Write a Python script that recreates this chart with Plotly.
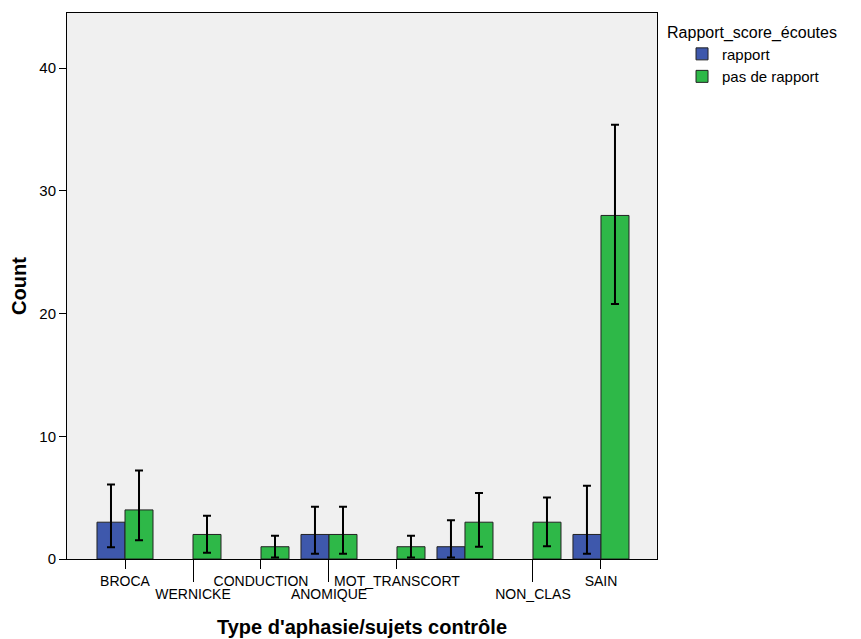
import plotly.graph_objects as go

# ---- data ----
categories = ["BROCA", "WERNICKE", "CONDUCTION", "ANOMIQUE", "MOT_TRANSCORT", "", "NON_CLAS", "SAIN"]
rapport = [3, None, None, 2, None, 1, None, 2]
rapport_low = [0.95, None, None, 0.43, None, 0.13, None, 0.43]
rapport_high = [6.08, None, None, 4.26, None, 3.15, None, 5.97]
pas_rapport = [4, 2, 1, 2, 1, 3, 3, 28]
pas_low = [1.52, 0.51, 0.13, 0.43, 0.13, 1.0, 1.03, 20.78]
pas_high = [7.22, 3.53, 1.9, 4.26, 1.9, 5.38, 5.02, 35.4]
y_ticks = [0, 10, 20, 30, 40]

FONT = "Liberation Sans, Arial, sans-serif"
BLUE = "#3E58AC"
GREEN = "#2EB848"

x_idx = list(range(len(categories)))


def err(vals, lo, hi):
    plus = [None if v is None else h - v for v, h in zip(vals, hi)]
    minus = [None if v is None else v - l for v, l in zip(vals, lo)]
    return plus, minus


# staggered label rows (alternate among labelled categories)
row1, row2 = [], []
k = 0
for i, c in enumerate(categories):
    if not c:
        continue
    (row1 if k % 2 == 0 else row2).append(i)
    k += 1

fig = go.Figure()
for name, vals, lo, hi, col in [
    ("rapport", rapport, rapport_low, rapport_high, BLUE),
    ("pas de rapport", pas_rapport, pas_low, pas_high, GREEN),
]:
    plus, minus = err(vals, lo, hi)
    fig.add_trace(go.Bar(
        x=x_idx, y=vals, name=name,
        marker=dict(color=col, line=dict(color="#222222", width=1)),
        error_y=dict(type="data", symmetric=False, array=plus, arrayminus=minus,
                     color="black", thickness=2, width=4),
    ))

# invisible helper trace so the second (staggered-label) axis is drawn
fig.add_trace(go.Scatter(x=row2, y=[0] * len(row2), xaxis="x2", mode="markers",
                         marker=dict(opacity=0), showlegend=False, hoverinfo="skip"))

xrange = [-0.853, 7.824]
fig.update_layout(
    width=853, height=631,
    margin=dict(l=59, r=204, t=5, b=80, autoexpand=False),
    paper_bgcolor="white", plot_bgcolor="#F0F0F0",
    barmode="group", bargap=0.176, bargroupgap=0,
    font=dict(family=FONT, color="black", size=14),
    xaxis=dict(range=xrange, tickmode="array", tickvals=row1,
               ticktext=[categories[i] for i in row1],
               ticks="outside", ticklen=9, tickcolor="black", tickwidth=1,
               showline=True, linecolor="black", linewidth=1, mirror=True,
               showgrid=False, zeroline=False, tickfont=dict(size=14),
               automargin=False),
    xaxis2=dict(overlaying="x", matches="x", anchor="y", side="bottom",
                range=xrange, tickmode="array", tickvals=row2,
                ticktext=[categories[i] for i in row2],
                ticks="outside", ticklen=22, tickcolor="black", tickwidth=1,
                showline=False, showgrid=False, zeroline=False,
                tickfont=dict(size=14), automargin=False,
                title=dict(text="<b>Type d'aphasie/sujets contrôle</b>",
                           font=dict(size=20), standoff=19)),
    yaxis=dict(range=[0, 44.5], tickmode="array", tickvals=y_ticks,
               ticks="outside", ticklen=7, tickcolor="black",
               showline=True, linecolor="black", linewidth=1, mirror=True,
               showgrid=False, zeroline=False, tickfont=dict(size=15),
               automargin=False,
               title=dict(text="<b>Count</b>", font=dict(size=20), standoff=8)),
    legend=dict(x=1.0136, xanchor="left", y=0.993, yanchor="top",
                title=dict(text="Rapport_score_écoutes", font=dict(size=16), side="top"),
                font=dict(size=15), indentation=17, tracegroupgap=0,
                bgcolor="rgba(0,0,0,0)"),
)

fig.write_html("out.html")
